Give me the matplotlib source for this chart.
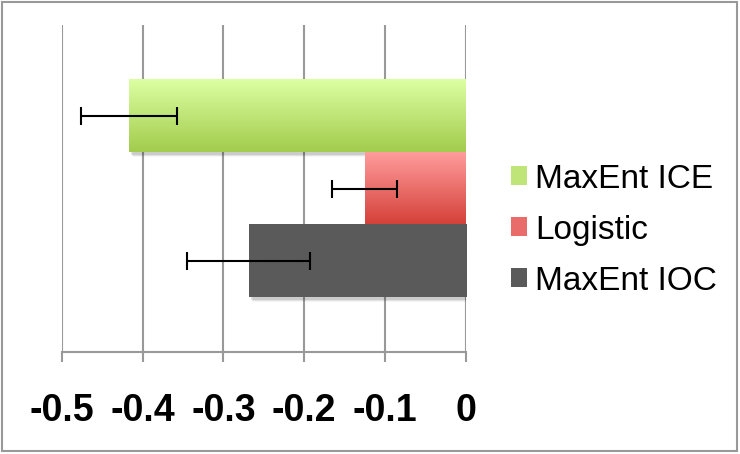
import numpy as np
import matplotlib.pyplot as plt
from matplotlib.patches import Patch, Rectangle
from matplotlib.colors import LinearSegmentedColormap

plt.rcParams['font.family'] = ['Liberation Sans', 'DejaVu Sans']

methods = ["MaxEnt ICE", "Logistic", "MaxEnt IOC"]
values = [-0.417, -0.125, -0.269]
errors = [0.059, 0.040, 0.076]
top_colors = ["#dcffa2", "#ff9c9c", "#5a5a5a"]
bottom_colors = ["#a2cc4c", "#d44038", "#5a5a5a"]
mid_colors = ["#bfe477", "#ea6c6a", "#5a5a5a"]
xticks = [-0.5, -0.4, -0.3, -0.2, -0.1, 0]
xtick_labels = ["-0.5", "-0.4", "-0.3", "-0.2", "-0.1", "0"]

fig = plt.figure(figsize=(7.4, 4.54), dpi=100)
ax = fig.add_axes([62 / 740, 102 / 454, 403.7 / 740, 327 / 454])

ypos = [1, 0, -1]
bars = ax.barh(ypos, values, height=1.0, color="none", zorder=2)

for bar, c_top, c_bot in zip(bars, top_colors, bottom_colors):
    x0, y0 = bar.get_x(), bar.get_y()
    w, h = bar.get_width(), bar.get_height()
    # soft drop shadow
    for k, a in enumerate([0.10, 0.07, 0.04]):
        ax.add_patch(Rectangle((x0 + 0.003 + k * 0.001, y0 - 0.04 - k * 0.015), w, h,
                               facecolor="black", alpha=a, lw=0, zorder=1.5))
    cmap = LinearSegmentedColormap.from_list("g", [c_bot, c_top])
    grad = np.linspace(0, 1, 100).reshape(-1, 1)
    ax.imshow(grad, cmap=cmap, extent=[x0, x0 + w, y0, y0 + h], origin="lower",
              aspect="auto", zorder=2)

ax.errorbar(values, ypos, xerr=errors, fmt="none", ecolor="black",
            elinewidth=1.5, capsize=6.5, capthick=1.5, zorder=3)

ax.set_xlim(-0.5, 0)
ax.set_ylim(-2.258, 2.258)
ax.set_xticks(xticks)
ax.set_xticklabels(xtick_labels, fontsize=27, fontweight="bold")
ax.set_yticks([])
ax.xaxis.grid(True, color="#999999", linewidth=1.5, zorder=0)
ax.set_axisbelow(True)
for s in ["top", "right", "left"]:
    ax.spines[s].set_visible(False)
ax.spines["bottom"].set_color("#999999")
ax.spines["bottom"].set_linewidth(1.5)
ax.tick_params(axis="x", direction="out", length=7.5, width=1.5, color="#999999", pad=22)

handles = [Patch(facecolor=c, edgecolor="none") for c in mid_colors]
fig.legend(handles, methods, loc="center left", bbox_to_anchor=(511 / 740, 1 - 230 / 454),
           frameon=False, fontsize=24, handlelength=0.48, handleheight=0.48,
           handletextpad=0.24, labelspacing=0.6, borderpad=0, borderaxespad=0)

fig.add_artist(Rectangle((2 / 740, 3 / 454), 735 / 740, 449 / 454, transform=fig.transFigure,
                         facecolor="none", edgecolor="#999999", linewidth=1.5))

fig.savefig("out.png", dpi=100)
